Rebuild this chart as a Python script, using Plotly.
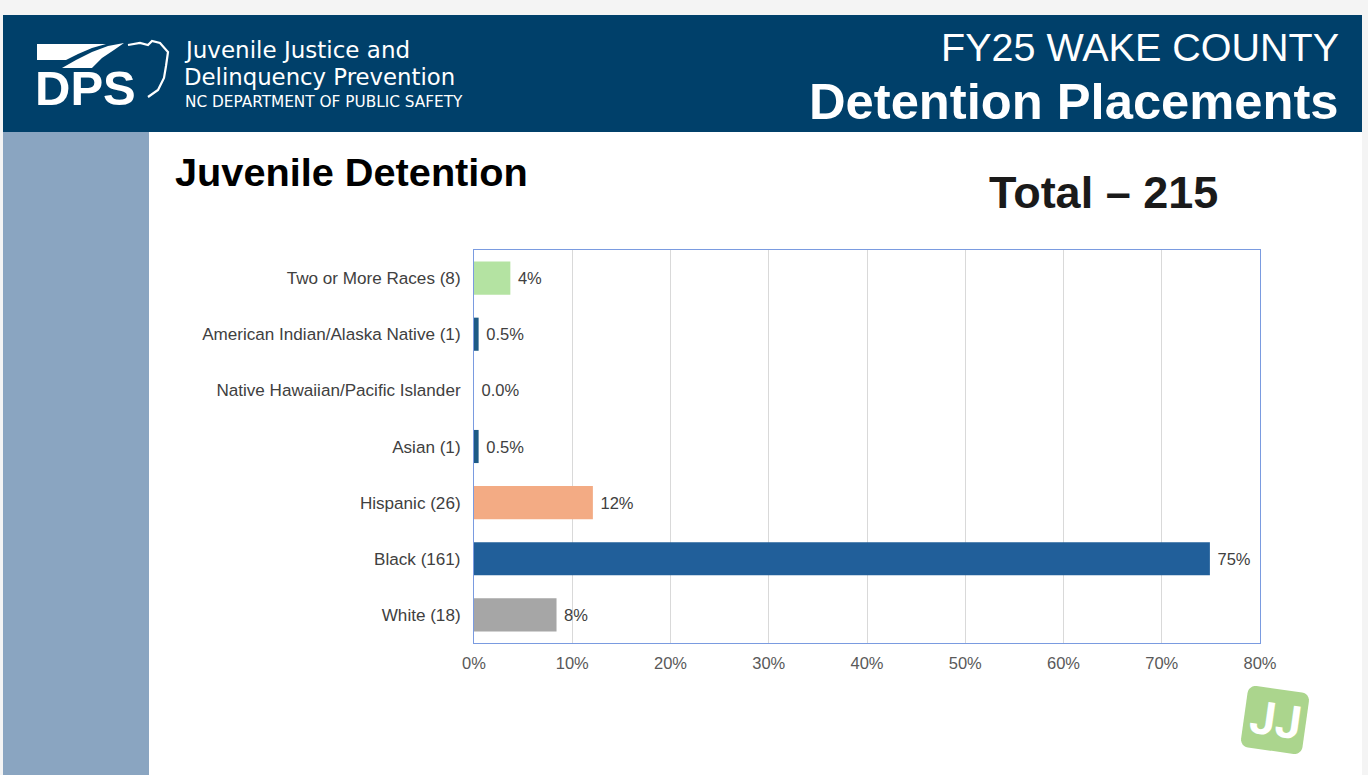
import math
import plotly.graph_objects as go

# ---------------- data ----------------
categories = [
    "White (18)",
    "Black (161)",
    "Hispanic (26)",
    "Asian (1)",
    "Native Hawaiian/Pacific Islander",
    "American Indian/Alaska Native (1)",
    "Two or More Races (8)",
]
percent_values = [8.4, 74.9, 12.1, 0.47, 0.0, 0.47, 3.7]
percent_labels = ["8%", "75%", "12%", "0.5%", "0.0%", "0.5%", "4%"]
bar_colors = ["#a6a6a6", "#215f9a", "#f3ab84", "#1d5a86", "#1d5a86", "#1d5a86", "#b4e3a2"]
x_ticks = [0, 10, 20, 30, 40, 50, 60, 70, 80]
x_tick_labels = ["0%", "10%", "20%", "30%", "40%", "50%", "60%", "70%", "80%"]

W, H = 1368, 775


def px(x):
    return x / W


def py(y):
    return 1 - y / H


def path(points, close=True):
    s = "M " + " L ".join(f"{px(x):.5f},{py(y):.5f}" for x, y in points)
    return s + (" Z" if close else "")


fig = go.Figure()
fig.add_trace(go.Bar(
    y=categories,
    x=percent_values,
    orientation="h",
    marker=dict(color=bar_colors, line=dict(width=0)),
    text=percent_labels,
    texttemplate="\u00a0%{text}",
    textposition="outside",
    textfont=dict(family="Liberation Sans, Arial, sans-serif", size=16.5, color="#404040"),
    cliponaxis=False,
    width=0.59,
    hoverinfo="skip",
))

shapes = []
# header band
shapes.append(dict(type="rect", xref="paper", yref="paper", x0=px(3), x1=px(1362), y0=py(132), y1=py(15),
                   fillcolor="#00406a", line=dict(width=0), layer="below"))
# sidebar
shapes.append(dict(type="rect", xref="paper", yref="paper", x0=px(3), x1=px(149), y0=py(775), y1=py(132),
                   fillcolor="#8aa5c1", line=dict(width=0), layer="below"))
# content area
shapes.append(dict(type="rect", xref="paper", yref="paper", x0=px(149), x1=px(1362), y0=py(775), y1=py(132),
                   fillcolor="#ffffff", line=dict(width=0), layer="below"))

# DPS logo swooshes (white)
shapes.append(dict(type="path", xref="paper", yref="paper",
                   path=path([(37, 44), (106, 44), (92, 48), (78, 54), (66, 60), (37, 60)]),
                   fillcolor="#ffffff", line=dict(width=0)))
shapes.append(dict(type="path", xref="paper", yref="paper",
                   path=path([(62, 68), (76, 60), (92, 52), (108, 46), (124, 43), (114, 50), (102, 58), (92, 68)]),
                   fillcolor="#ffffff", line=dict(width=0)))
# badge outline
shapes.append(dict(type="path", xref="paper", yref="paper",
                   path=path([(128, 45), (140, 43), (148, 45), (152, 41), (160, 43), (168, 52), (166, 66),
                              (164, 78), (158, 90), (148, 97)], close=False),
                   fillcolor="rgba(0,0,0,0)", line=dict(color="#ffffff", width=2.2)))

# JJ logo: rotated rounded square
cx, cy, half, r, ang = 1275, 720, 31, 8, math.radians(8)
pts = []
for (qx, qy, a0) in [(half - r, half - r, 0), (-(half - r), half - r, 90), (-(half - r), -(half - r), 180), (half - r, -(half - r), 270)]:
    for k in range(7):
        t = math.radians(a0 + k * 15)
        x = qx + r * math.cos(t)
        y = qy + r * math.sin(t)
        xr = x * math.cos(ang) - y * math.sin(ang)
        yr = x * math.sin(ang) + y * math.cos(ang)
        pts.append((cx + xr, cy + yr))
shapes.append(dict(type="path", xref="paper", yref="paper", path=path(pts),
                   fillcolor="#abd58d", line=dict(width=0)))

annotations = []


def ann(text, x, y, size, color, family, xanchor="left", yanchor="middle", bold=False, angle=0):
    if bold:
        text = f"<b>{text}</b>"
    annotations.append(dict(text=text, x=px(x), y=py(y), xref="paper", yref="paper", showarrow=False,
                            xanchor=xanchor, yanchor=yanchor, textangle=angle,
                            font=dict(size=size, color=color, family=family)))


ann("DPS", 33, 88, 49, "#ffffff", "Liberation Sans, Arial", bold=True)
ann("Juvenile Justice and", 182, 50, 23, "#ffffff", "DejaVu Sans, sans-serif")
ann("Delinquency Prevention", 182, 77.5, 22.8, "#ffffff", "DejaVu Sans, sans-serif")
ann("NC DEPARTMENT OF PUBLIC SAFETY", 183, 102, 15.3, "#ffffff", "DejaVu Sans, sans-serif")
ann("FY25 WAKE COUNTY", 1341, 47, 39.5, "#ffffff", "Liberation Sans, Arial", xanchor="right")
ann("Detention Placements", 1341, 101, 50.7, "#ffffff", "Liberation Sans, Arial", xanchor="right", bold=True)
ann("Juvenile Detention", 173, 172, 39.7, "#000000", "Liberation Sans, Arial", bold=True)
ann("Total \u2013 215", 987, 192, 45, "#1a1a1a", "Liberation Sans, Arial", bold=True)
ann("JJ", 1275, 720, 46, "#ffffff", "Roboto, Liberation Sans", xanchor="center", bold=True, angle=8)

fig.update_layout(
    width=W, height=H,
    margin=dict(l=0, r=0, t=0, b=0, pad=0),
    paper_bgcolor="#f4f4f4",
    plot_bgcolor="#ffffff",
    showlegend=False,
    shapes=shapes,
    annotations=annotations,
    xaxis=dict(
        domain=[px(474), px(1260)],
        range=[0, 80],
        tickvals=x_ticks,
        ticktext=x_tick_labels,
        showgrid=True, gridcolor="#d9d9d9", gridwidth=1,
        zeroline=False,
        showline=True, linecolor="#7a9be0", linewidth=1, mirror=True,
        ticks="outside", ticklen=5, tickcolor="rgba(0,0,0,0)",
        tickfont=dict(family="Liberation Sans, Arial", size=16.5, color="#595959"),
        automargin=False,
        fixedrange=True,
    ),
    yaxis=dict(
        domain=[py(643), py(250)],
        categoryorder="array", categoryarray=categories,
        showgrid=False, zeroline=False,
        showline=True, linecolor="#7a9be0", linewidth=1, mirror=True,
        ticks="outside", ticklen=9, tickcolor="rgba(0,0,0,0)",
        tickfont=dict(family="Liberation Sans, Arial", size=17.1, color="#404040"),
        automargin=False,
        fixedrange=True,
    ),
    font=dict(family="Liberation Sans, Arial"),
)

fig.write_html(
    "out.html",
    config={"displayModeBar": False},
    post_script="document.body.style.margin='0';document.body.style.overflow='hidden';",
)
